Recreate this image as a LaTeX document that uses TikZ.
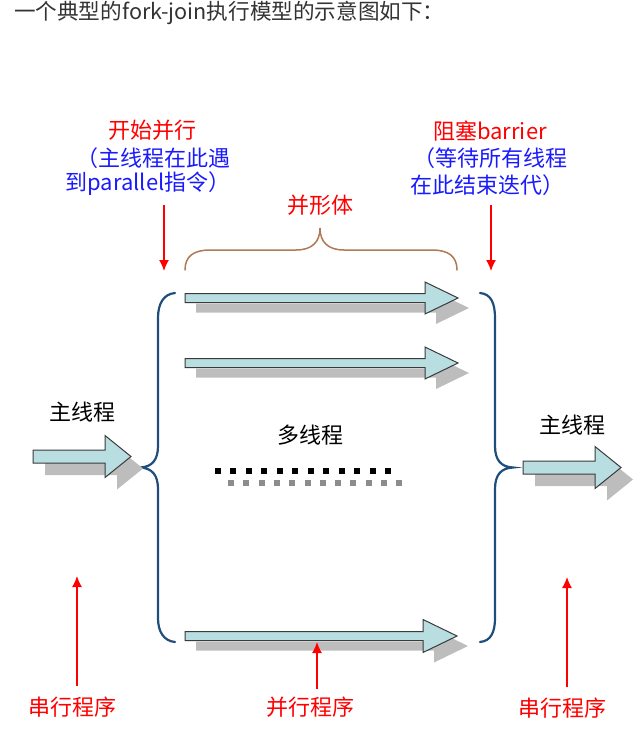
\documentclass[tikz,border=0pt]{standalone}
\usepackage{fontspec}
\setmainfont{Noto Sans CJK SC}
\usetikzlibrary{arrows.meta}
\definecolor{threadfill}{HTML}{B8DEE1}
\definecolor{threadedge}{HTML}{3A3A3A}
\definecolor{shadowgray}{HTML}{BDBDBD}
\definecolor{bracebl}{HTML}{1F4E7D}
\definecolor{bracebr}{HTML}{B07A55}
\definecolor{notered}{HTML}{FF0000}
\definecolor{noteblue}{HTML}{1A1AFF}
\definecolor{titlegray}{HTML}{333333}
\definecolor{dotgray}{HTML}{8C8C8C}

% block arrow: start x, head base x, tip x, centre y, half shaft, half head, shadow dx, shadow dy
\newcommand{\fatarrow}[8]{%
  \begin{scope}[shift={(#7,#8)}]
    \fill[shadowgray] (#1,#4-#5) -- (#2,#4-#5) -- (#2,#4-#6) -- (#3,#4)
      -- (#2,#4+#6) -- (#2,#4+#5) -- (#1,#4+#5) -- cycle;
  \end{scope}
  \filldraw[fill=threadfill, draw=threadedge, line width=1pt, line join=miter]
    (#1,#4-#5) -- (#2,#4-#5) -- (#2,#4-#6) -- (#3,#4)
    -- (#2,#4+#6) -- (#2,#4+#5) -- (#1,#4+#5) -- cycle;
}

\begin{document}
\begin{tikzpicture}[x=1pt,y=-1pt,
  lbl/.style={inner sep=0pt, font=\fontsize{22}{26}\selectfont},
  rednote/.style={lbl, text=notered},
  bluenote/.style={lbl, text=noteblue},
  blacknote/.style={lbl, text=black},
  redarrow/.style={draw=notered, line width=1.4pt, -{Latex[length=11pt,width=10pt]}},
  bigbrace/.style={draw=bracebl, line width=2.2pt, line cap=round},
  topbrace/.style={draw=bracebr, line width=1.5pt, line cap=round}]
\useasboundingbox (0,0) rectangle (638,739);

% heading
\node[inner sep=0pt, font=\fontsize{21.6}{25}\selectfont, text=titlegray, anchor=west] (title) at (14,13) {一个典型的fork-join执行模型的示意图如下：};

% fork note
\node[rednote]  (forkA) at (152,130) {开始并行};
\node[bluenote] (forkB) at (153,158) {（主线程在此遇};
\node[bluenote] (forkC) at (148,184) {到parallel指令）};
\coordinate (forkS) at (164,205);
\coordinate (forkE) at (164,271);
\draw[redarrow] (forkS) -- (forkE);

% join note
\node[rednote]  (joinA) at (490,131) {阻塞barrier};
\node[bluenote] (joinB) at (490,158) {（等待所有线程};
\node[bluenote] (joinC) at (487,185) {在此结束迭代）};
\coordinate (joinS) at (491,205);
\coordinate (joinE) at (491,271);
\draw[redarrow] (joinS) -- (joinE);

% parallel region brace
\node[rednote] (region) at (320,205) {并形体};
\draw[topbrace] (185,270) .. controls (185,256) and (194,250) .. (210,250) -- (296,250)
  .. controls (312,250) and (320,242) .. (320,228)
  .. controls (320,242) and (328,250) .. (344,250) -- (432,250)
  .. controls (448,250) and (457,256) .. (457,270);

% fork and join braces
\draw[bigbrace] (175,293) .. controls (164,294) and (158,303) .. (158,318) -- (158,446)
  .. controls (158,460) and (152,467) .. (140,467.5)
  .. controls (152,468) and (158,475) .. (158,489) -- (158,618)
  .. controls (158,632) and (164,641) .. (175,642);
\draw[bigbrace] (480,293) .. controls (491,294) and (495,303) .. (495,318) -- (495,446)
  .. controls (495,460) and (501,467) .. (513,467.5)
  .. controls (501,468) and (495,475) .. (495,489) -- (495,618)
  .. controls (495,632) and (491,641) .. (480,642);

% thread arrows
\fatarrow{185}{425}{458}{298}{4.5}{16}{11}{10}
\fatarrow{185}{425}{458}{363}{4.5}{16}{11}{10}
\fatarrow{185}{423}{457}{636}{4.5}{16.5}{11}{10}

% main thread in and out
\node[blacknote] (mainL) at (82,412) {主线程};
\fatarrow{33}{105}{131}{456.5}{6.5}{21}{12}{12}
\node[blacknote] (mainR) at (572,425) {主线程};
\fatarrow{523}{595}{621}{467.5}{6.5}{21}{12}{12}

% omitted threads
\node[blacknote] (multi) at (310,435) {多线程};
\foreach \i in {0,...,11} {
  \fill[black] (215+15.45*\i,468) rectangle ++(6,6);
  \fill[dotgray] (228+15.3*\i,479.5) rectangle ++(6,6);
}

% bottom notes
\node[rednote] (serialL) at (72,707) {串行程序};
\coordinate (serialLS) at (77,686);
\coordinate (serialLE) at (77,576);
\draw[redarrow] (serialLS) -- (serialLE);

\node[rednote] (parallel) at (310,707) {并行程序};
\coordinate (parS) at (317,689);
\coordinate (parE) at (317,642);
\draw[redarrow] (parS) -- (parE);

\node[rednote] (serialR) at (562,708) {串行程序};
\coordinate (serialRS) at (567,687);
\coordinate (serialRE) at (567,577);
\draw[redarrow] (serialRS) -- (serialRE);
\end{tikzpicture}
\end{document}
